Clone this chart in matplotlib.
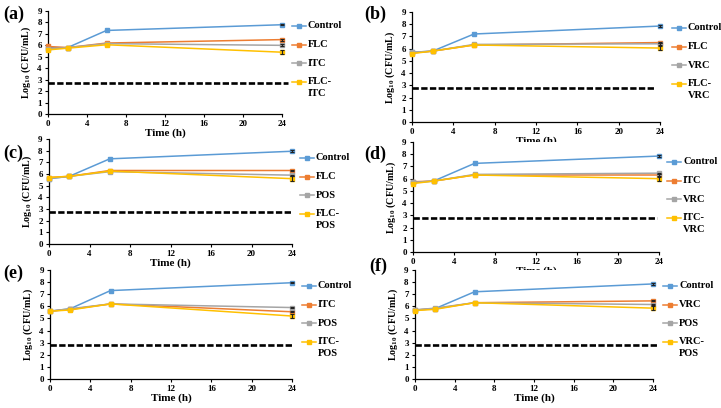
import matplotlib
matplotlib.use("Agg")
import matplotlib.pyplot as plt
from matplotlib.lines import Line2D

plt.rcParams['font.family'] = ['Liberation Serif', 'DejaVu Serif']
plt.rcParams['font.weight'] = 'bold'
plt.rcParams['mathtext.fontset'] = 'custom'
plt.rcParams['mathtext.rm'] = 'Liberation Serif:bold'
plt.rcParams['mathtext.bf'] = 'Liberation Serif:bold'

time_h = [0, 2, 6, 24]
x_ticks = [0, 4, 8, 12, 16, 20, 24]
y_ticks = [0, 1, 2, 3, 4, 5, 6, 7, 8, 9]

# Panel (a)
labels_a = ["Control", "FLC", "ITC", "FLC-\nITC"]
control_a = [5.8, 5.8, 7.3, 7.8]
drug1_a = [5.9, 5.8, 6.2, 6.5]
drug2_a = [5.7, 5.8, 6.15, 6.0]
combo_a = [5.6, 5.75, 6.05, 5.4]
err_a = [0.05, 0.08, 0.08, 0.2]
lod_a = 2.75

# Panel (b)
labels_b = ["Control", "FLC", "VRC", "FLC-\nVRC"]
control_b = [5.7, 5.8, 7.2, 7.85]
drug1_b = [5.65, 5.8, 6.3, 6.5]
drug2_b = [5.7, 5.8, 6.35, 6.4]
combo_b = [5.6, 5.8, 6.3, 6.05]
err_b = [0.05, 0.05, 0.08, 0.15]
lod_b = 2.75

# Panel (c)
labels_c = ["Control", "FLC", "POS", "FLC-\nPOS"]
control_c = [5.6, 5.8, 7.3, 7.95]
drug1_c = [5.7, 5.8, 6.3, 6.3]
drug2_c = [5.6, 5.8, 6.2, 5.9]
combo_c = [5.7, 5.8, 6.25, 5.6]
err_c = [0.1, 0.05, 0.05, 0.2]
lod_c = 2.75

# Panel (d)
labels_d = ["Control", "ITC", "VRC", "ITC-\nVRC"]
control_d = [5.7, 5.8, 7.25, 7.85]
drug1_d = [5.75, 5.8, 6.3, 6.3]
drug2_d = [5.7, 5.8, 6.35, 6.45]
combo_d = [5.6, 5.8, 6.3, 6.0]
err_d = [0.05, 0.05, 0.05, 0.15]
lod_d = 2.8

# Panel (e)
labels_e = ["Control", "ITC", "POS", "ITC-\nPOS"]
control_e = [5.6, 5.8, 7.3, 7.95]
drug1_e = [5.6, 5.75, 6.2, 5.55]
drug2_e = [5.6, 5.8, 6.2, 5.9]
combo_e = [5.6, 5.7, 6.2, 5.2]
err_e = [0.05, 0.05, 0.05, 0.2]
lod_e = 2.8

# Panel (f)
labels_f = ["Control", "VRC", "POS", "VRC-\nPOS"]
control_f = [5.7, 5.8, 7.2, 7.85]
drug1_f = [5.7, 5.8, 6.3, 6.45]
drug2_f = [5.7, 5.85, 6.3, 6.15]
combo_f = [5.65, 5.75, 6.3, 5.85]
err_f = [0.05, 0.05, 0.05, 0.15]
lod_f = 2.8

colors = ["#5B9BD5", "#ED7D31", "#A5A5A5", "#FFC000"]

W, H = 721, 408
fig = plt.figure(figsize=(W / 100, H / 100), dpi=100)


def px_axes(l, r, b, t):
    return fig.add_axes([l / W, 1 - b / H, (r - l) / W, (b - t) / H])


def legend_manual(labels, x0, y0, step=18.6):
    for i, lab in enumerate(labels):
        y = y0 + i * step
        fy = 1 - y / H
        fig.add_artist(Line2D([x0 / W, (x0 + 14) / W], [fy, fy], color=colors[i], lw=1.1,
                              transform=fig.transFigure))
        fig.add_artist(Line2D([(x0 + 7) / W], [fy], color=colors[i], marker="s", ms=3,
                              transform=fig.transFigure))
        lines = lab.split("\n")
        for j, ln in enumerate(lines):
            fig.text((x0 + 16) / W, 1 - (y + j * 12) / H, ln, fontsize=7.5,
                     fontweight="bold", ha="left", va="center")


def draw(ax, letter, labels, series, err, lod, lod_end, leg_xy, letter_xy):
    for i, (lab, vals) in enumerate(zip(labels, series)):
        ax.plot(time_h, vals, color=colors[i], lw=1.1, marker="s", ms=3,
                clip_on=False, zorder=3)
        ax.errorbar(time_h[-1:], vals[-1:], yerr=err[i:i + 1], fmt="none",
                    ecolor="#222222", elinewidth=0.8, capsize=1.5, capthick=0.8,
                    clip_on=False, zorder=4)
    ax.plot([0, lod_end], [lod, lod], color="black", lw=1.9, ls=(0, (2.4, 0.9)),
            clip_on=False, zorder=2)
    ax.set_xlim(0, 24)
    ax.set_ylim(0, 9)
    ax.set_xticks(x_ticks)
    ax.set_yticks(y_ticks)
    for s in ["top", "right"]:
        ax.spines[s].set_visible(False)
    for s in ["left", "bottom"]:
        ax.spines[s].set_color("black")
        ax.spines[s].set_linewidth(0.9)
    ax.tick_params(axis="both", labelsize=6.5, length=2.5, width=0.8, pad=2, colors="black")
    for t in ax.get_xticklabels() + ax.get_yticklabels():
        t.set_fontweight("bold")
    ax.set_xlabel("Time (h)", fontsize=8, fontweight="bold", labelpad=0)
    ax.set_ylabel(r"Log$_{10}$ (CFU/mL)", fontsize=7.2, fontweight="bold", labelpad=3)
    legend_manual(labels, leg_xy[0], leg_xy[1])
    fig.text(letter_xy[0] / W, 1 - letter_xy[1] / H, letter, fontsize=13,
             fontweight="bold", ha="left", va="center")


ax_a = px_axes(48, 282, 114, 11)
draw(ax_a, "(a)", labels_a, [control_a, drug1_a, drug2_a, combo_a], err_a, lod_a, 24.6,
     (292, 26), (3, 14))
ax_b = px_axes(412, 660, 122, 12)
draw(ax_b, "(b)", labels_b, [control_b, drug1_b, drug2_b, combo_b], err_b, lod_b, 23.4,
     (672, 28), (364, 14))
ax_c = px_axes(49, 292, 244, 139)
draw(ax_c, "(c)", labels_c, [control_c, drug1_c, drug2_c, combo_c], err_c, lod_c, 24.0,
     (300, 158), (3, 153))
ax_d = px_axes(413, 659, 252, 142)
draw(ax_d, "(d)", labels_d, [control_d, drug1_d, drug2_d, combo_d], err_d, lod_d, 23.8,
     (667, 162), (364, 154))
ax_e = px_axes(50, 292, 379, 270)
draw(ax_e, "(e)", labels_e, [control_e, drug1_e, drug2_e, combo_e], err_e, lod_e, 24.0,
     (302, 286), (3, 273))
ax_f = px_axes(415, 653, 379, 270)
draw(ax_f, "(f)", labels_f, [control_f, drug1_f, drug2_f, combo_f], err_f, lod_f, 24.4,
     (663, 286), (369, 266))

fig.savefig("out.png", dpi=100)
